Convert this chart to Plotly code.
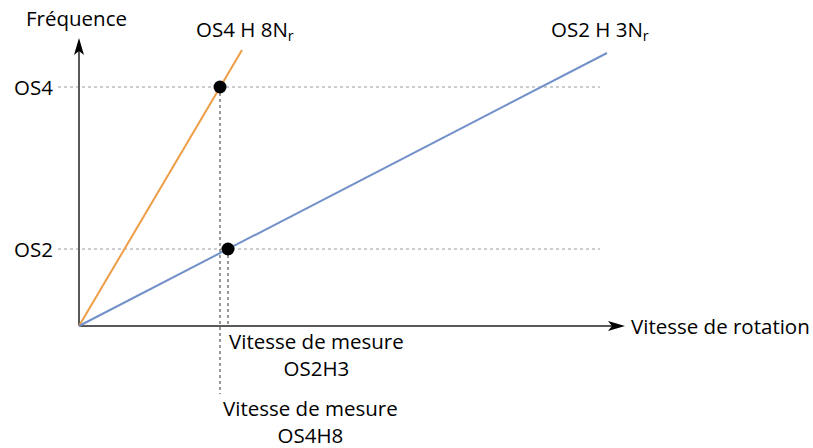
import plotly.graph_objects as go

# Frequency levels (arbitrary units)
freq_levels = {"OS4": 239, "OS2": 77}
# Harmonic lines: speed and frequency end points
h8_speed = [0, 163]
h8_freq = [0, 276]
h3_speed = [0, 528]
h3_freq = [0, 273]
# Measurement points
meas_speed = [141, 149]
meas_freq = [239, 77]
meas_labels = ["Vitesse de mesure<br>OS4H8", "Vitesse de mesure<br>OS2H3"]
# Axis extents
x_axis_end = 546
y_axis_end = 288
ref_x = [-21, 521]

FONT = "Open Sans"
AXC = "#595959"
ORANGE = "#EE9D45"
BLUE = "#7391C9"

fig = go.Figure()

# reference horizontal dotted lines
for name, f in freq_levels.items():
    fig.add_trace(go.Scatter(x=ref_x, y=[f, f], mode="lines",
                             line=dict(color="#9a9a9a", width=1, dash="dot"),
                             hoverinfo="skip", showlegend=False))

# vertical dotted lines from measurement points
fig.add_trace(go.Scatter(x=[meas_speed[0], meas_speed[0]], y=[meas_freq[0], -68], mode="lines",
                         line=dict(color="#7a7a7a", width=1.5, dash="dot"), showlegend=False))
fig.add_trace(go.Scatter(x=[meas_speed[1], meas_speed[1]], y=[meas_freq[1], 0], mode="lines",
                         line=dict(color="#7a7a7a", width=1.5, dash="dot"), showlegend=False))

# axes lines
fig.add_trace(go.Scatter(x=[0, x_axis_end - 10], y=[0, 0], mode="lines",
                         line=dict(color=AXC, width=2), showlegend=False))
fig.add_trace(go.Scatter(x=[0, 0], y=[0, y_axis_end - 10], mode="lines",
                         line=dict(color=AXC, width=2), showlegend=False))

# harmonic lines
fig.add_trace(go.Scatter(x=h8_speed, y=h8_freq, mode="lines",
                         line=dict(color=ORANGE, width=2), showlegend=False))
fig.add_trace(go.Scatter(x=h3_speed, y=h3_freq, mode="lines",
                         line=dict(color=BLUE, width=2), showlegend=False))

# measurement dots
fig.add_trace(go.Scatter(x=meas_speed, y=meas_freq, mode="markers",
                         marker=dict(color="black", size=13), showlegend=False))

# arrowheads (pixel-sized path shapes anchored at the axis ends)
fig.add_shape(type="path", xref="x", yref="y", xsizemode="pixel", ysizemode="pixel",
              xanchor=x_axis_end, yanchor=0,
              path="M0,0 L-17,5 L-13,0 L-17,-5 Z", fillcolor="black", line=dict(width=0))
fig.add_shape(type="path", xref="x", yref="y", xsizemode="pixel", ysizemode="pixel",
              xanchor=0, yanchor=y_axis_end,
              path="M0,0 L-5,-17 L0,-13 L5,-17 Z", fillcolor="black", line=dict(width=0))

tf = dict(family=FONT, size=20.5, color="black")
ann = [
    dict(x=-3, y=308, text="Fréquence", xanchor="center", yanchor="middle"),
    dict(x=166, y=296, text="OS4 H 8N<sub>r</sub>", xanchor="center", yanchor="middle"),
    dict(x=521, y=296, text="OS2 H 3N<sub>r</sub>", xanchor="center", yanchor="middle"),
    dict(x=-24, y=freq_levels["OS4"], text="OS4", xanchor="right", yanchor="middle"),
    dict(x=-24, y=freq_levels["OS2"], text="OS2", xanchor="right", yanchor="middle"),
    dict(x=550, y=0, text="Vitesse de rotation", xanchor="left", yanchor="middle"),
    dict(x=237, y=-28, text=meas_labels[1], xanchor="center", yanchor="middle"),
    dict(x=231, y=-95, text=meas_labels[0], xanchor="center", yanchor="middle"),
]
for a in ann:
    fig.add_annotation(**a, showarrow=False, font=tf, xref="x", yref="y")

fig.update_layout(width=813, height=448, margin=dict(l=0, r=0, t=0, b=0),
                  plot_bgcolor="white", paper_bgcolor="white",
                  xaxis=dict(range=[-79, 734], visible=False, fixedrange=True),
                  yaxis=dict(range=[-122, 326], visible=False, fixedrange=True))

# remove the default page margin so the figure fills the window exactly
fig.write_html("out.html", config={"displayModeBar": False},
               post_script="document.body.style.margin='0';")
